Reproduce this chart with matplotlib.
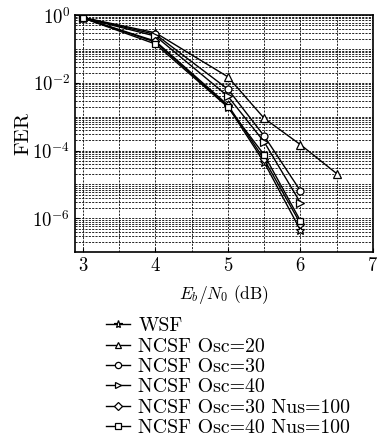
import matplotlib
matplotlib.use("Agg")
import matplotlib.pyplot as plt
from matplotlib.ticker import LogLocator, MultipleLocator, NullFormatter

plt.rcParams['mathtext.fontset'] = 'cm'
plt.rcParams['font.family'] = ['DejaVu Serif']

labels = ['WSF', 'NCSF Osc=20', 'NCSF Osc=30', 'NCSF Osc=40',
          'NCSF Osc=30 Nus=100', 'NCSF Osc=40 Nus=100']
markers = ['*', '^', 'o', '>', 'D', 's']

ebn0_wsf = [3, 4, 5, 5.5, 6]
fer_wsf = [0.82, 0.16, 2.0e-3, 4.5e-5, 4.5e-7]
ebn0_osc20 = [3, 4, 5, 5.5, 6, 6.5]
fer_osc20 = [0.85, 0.30, 1.5e-2, 9.0e-4, 1.5e-4, 2.1e-5]
ebn0_osc30 = [3, 4, 5, 5.5, 6]
fer_osc30 = [0.84, 0.27, 6.5e-3, 2.7e-4, 6.5e-6]
ebn0_osc40 = [3, 4, 5, 5.5, 6]
fer_osc40 = [0.83, 0.24, 4.0e-3, 1.8e-4, 2.9e-6]
ebn0_osc30n = [3, 4, 5, 5.5, 6]
fer_osc30n = [0.82, 0.17, 2.2e-3, 5.5e-5, 7.0e-7]
ebn0_osc40n = [3, 4, 5, 5.5, 6]
fer_osc40n = [0.82, 0.14, 1.9e-3, 7.5e-5, 8.5e-7]

xs = [ebn0_wsf, ebn0_osc20, ebn0_osc30, ebn0_osc40, ebn0_osc30n, ebn0_osc40n]
ys = [fer_wsf, fer_osc20, fer_osc30, fer_osc40, fer_osc30n, fer_osc40n]
msizes = [6.5, 5.5, 5, 5.5, 4.5, 4.5]

fig = plt.figure(figsize=(3.77, 4.44), dpi=100)
ax = fig.add_axes([0.199, 0.432, 0.790, 0.534])

handles = []
for x, y, m, lab, ms in zip(xs, ys, markers, labels, msizes):
    h, = ax.semilogy(x, y, marker=m, color='black', markerfacecolor='white',
                     markeredgecolor='black', markersize=ms, linewidth=1.0,
                     markeredgewidth=0.9, label=lab)
    handles.append(h)

ax.set_xlim(2.89, 7)
ax.set_ylim(1e-7, 1)
ax.xaxis.set_minor_locator(MultipleLocator(0.5))
ax.set_yticks([1, 1e-2, 1e-4, 1e-6])
ax.yaxis.set_minor_locator(LogLocator(base=10, subs=range(1, 10), numticks=20))
ax.yaxis.set_minor_formatter(NullFormatter())
ax.set_yticklabels([r'$10^{0}$', r'$10^{-2}$', r'$10^{-4}$', r'$10^{-6}$'])
ax.set_xticks([3, 4, 5, 6, 7])
ax.set_xticklabels([r'$3$', r'$4$', r'$5$', r'$6$', r'$7$'])

ax.grid(True, which='both', axis='both', linestyle=(0, (2.5, 1.5)), color='black', linewidth=0.6)
ax.tick_params(which='both', direction='in', labelsize=13.5, length=3)
ax.tick_params(which='minor', length=0)
for s in ax.spines.values():
    s.set_linewidth(1.2)

ax.set_xlabel(r'$E_b/N_0\ (\mathrm{dB})$', fontsize=12.5, labelpad=6)
ax.set_ylabel('FER', fontsize=15, labelpad=0, family='cmr10')

leg = fig.legend(handles=handles, loc='upper left', bbox_to_anchor=(0.28, 0.285),
                 frameon=False, prop={'family': 'cmr10', 'size': 14.3},
                 handlelength=1.25, handletextpad=0.4,
                 labelspacing=0.12, borderaxespad=0, borderpad=0, markerscale=0.9)

fig.savefig('out.png', dpi=100)
